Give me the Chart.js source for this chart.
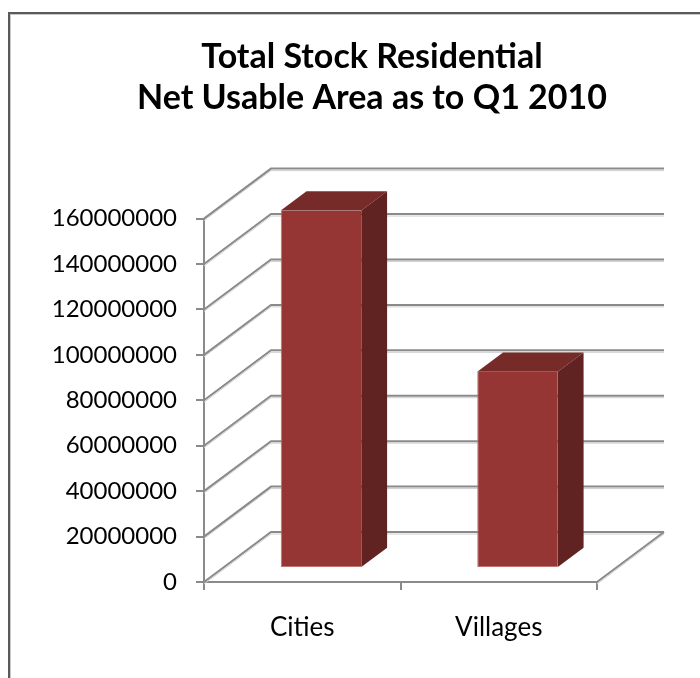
<!DOCTYPE html>
<html>
<head>
<meta charset="utf-8">
<title>Total Stock Residential</title>
<script src="https://cdn.jsdelivr.net/npm/chart.js@4"></script>
<style>
  html, body { margin: 0; padding: 0; background: #fff; overflow: hidden; }
  body { width: 700px; height: 678px; position: relative; }
  #frame {
    position: absolute; left: 8px; top: 12px; width: 760px; height: 720px;
    border: 2px solid #5a5a5a; box-shadow: inset 1px 1px 0 #c8c8c8;
  }
  #chart { position: absolute; left: 0; top: 0; }
</style>
</head>
<body>
<div id="frame"></div>
<canvas id="chart" width="744" height="678"></canvas>
<script>
const categories = ['Cities', 'Villages'];
const stockArea = [157400000, 86400000];
const yMin = 0;
const yMax = 160000000;
const yStep = 20000000;

// oblique depth of the 3D box, and where the bars sit inside it (0 = front, 1 = back)
const DEPTH_X = 67;
const DEPTH_Y = -50;
const BAR_NEAR = 0.28;
const BAR_FAR = 0.665;

const GRID = '#8a8a8a';
const GRID_SHADOW = '#cfcfcf';

function gridLine(ctx, pts) {
  ctx.lineWidth = 1;
  ctx.strokeStyle = GRID_SHADOW;
  ctx.beginPath();
  pts.forEach(([x, y], i) => i ? ctx.lineTo(x, y + 2) : ctx.moveTo(x, y + 2));
  ctx.stroke();
  ctx.lineWidth = 2;
  ctx.strokeStyle = GRID;
  ctx.beginPath();
  pts.forEach(([x, y], i) => i ? ctx.lineTo(x, y) : ctx.moveTo(x, y));
  ctx.stroke();
}

function poly(ctx, pts, fill) {
  ctx.fillStyle = fill;
  ctx.beginPath();
  pts.forEach(([x, y], i) => i ? ctx.lineTo(x, y) : ctx.moveTo(x, y));
  ctx.closePath();
  ctx.fill();
}

const box3d = {
  id: 'box3d',
  beforeDatasetsDraw(chart) {
    const { ctx, chartArea: a, scales: { y } } = chart;
    ctx.save();
    // side wall and back wall gridlines
    y.ticks.forEach(t => {
      const py = y.getPixelForValue(t.value);
      gridLine(ctx, [[a.left, py], [a.left + DEPTH_X, py + DEPTH_Y], [a.right + DEPTH_X, py + DEPTH_Y]]);
    });
    // right edge of the floor
    gridLine(ctx, [[a.right, a.bottom], [a.right + DEPTH_X, a.bottom + DEPTH_Y]]);
    ctx.restore();
  },
  beforeDatasetDraw(chart) {
    chart.ctx.save();
    chart.ctx.translate(BAR_NEAR * DEPTH_X, BAR_NEAR * DEPTH_Y);
  },
  afterDatasetDraw(chart, args) {
    const ctx = chart.ctx;
    ctx.restore();
    const nx = BAR_NEAR * DEPTH_X, ny = BAR_NEAR * DEPTH_Y;
    const bx = (BAR_FAR - BAR_NEAR) * DEPTH_X, by = (BAR_FAR - BAR_NEAR) * DEPTH_Y;
    args.meta.data.forEach(bar => {
      const { x, y, base, width } = bar.getProps(['x', 'y', 'base', 'width'], true);
      const xl = x - width / 2 + nx, xr = x + width / 2 + nx;
      const yt = y + ny, yb = base + ny;
      // top face
      poly(ctx, [[xl, yt], [xr, yt], [xr + bx, yt + by], [xl + bx, yt + by]], '#762b29');
      // right side face
      poly(ctx, [[xr, yt], [xr + bx, yt + by], [xr + bx, yb + by], [xr, yb]], '#602322');
    });
  }
};

new Chart(document.getElementById('chart'), {
  type: 'bar',
  data: {
    labels: categories,
    datasets: [{
      data: stockArea,
      backgroundColor: '#963634',
      borderColor: '#c07573',
      borderWidth: { left: 1, bottom: 1, top: 0, right: 0 },
      borderSkipped: false,
      barPercentage: 0.82,
      categoryPercentage: 0.5
    }]
  },
  options: {
    responsive: false,
    devicePixelRatio: 1,
    animation: false,
    layout: { padding: 0 },
    plugins: {
      legend: { display: false },
      tooltip: { enabled: false },
      title: {
        display: true,
        text: ['Total Stock Residential', 'Net Usable Area as to Q1 2010'],
        color: '#000',
        font: { family: 'Lato', size: 34, weight: 'bold', lineHeight: 1.2 },
        padding: { top: 37, bottom: 100 }
      }
    },
    scales: {
      x: {
        afterFit: s => { s.height = 96; },
        grid: { offset: true, drawOnChartArea: false, tickLength: 8, color: GRID, lineWidth: 2 },
        border: { color: GRID, width: 2 },
        ticks: { color: '#000', padding: 22, font: { family: 'Lato', size: 26 } }
      },
      y: {
        min: yMin,
        max: yMax,
        afterFit: s => { s.width = 204; },
        grid: { drawOnChartArea: false, tickLength: 8, color: GRID, lineWidth: 2 },
        border: { color: GRID, width: 2 },
        ticks: {
          stepSize: yStep,
          color: '#000',
          padding: 19,
          font: { family: 'Lato', size: 24 },
          callback: v => String(v)
        }
      },
      // empty right-hand axis that leaves room for the depth of the box
      depth: {
        position: 'right',
        afterFit: s => { s.width = 147; },
        grid: { display: false },
        border: { display: false },
        ticks: { display: false }
      }
    }
  },
  plugins: [box3d]
});
</script>
</body>
</html>
